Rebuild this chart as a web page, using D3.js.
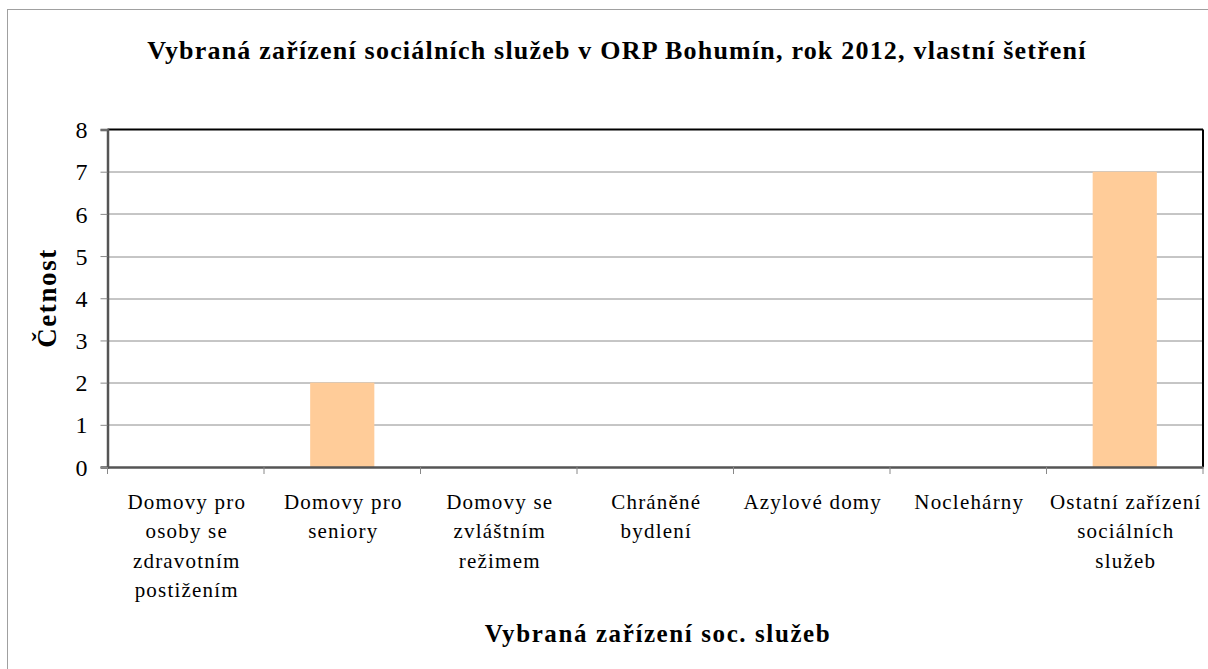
<!DOCTYPE html>
<html>
<head>
<meta charset="utf-8">
<script src="https://cdn.jsdelivr.net/npm/d3@7"></script>
<style>
  body { margin: 0; background: #fff; }
</style>
</head>
<body>
<div id="chart"></div>
<script>
// data
var categories = [
  "Domovy pro osoby se zdravotním postižením",
  "Domovy pro seniory",
  "Domovy se zvláštním režimem",
  "Chráněné bydlení",
  "Azylové domy",
  "Noclehárny",
  "Ostatní zařízení sociálních služeb"
];
var categoryLines = [
  ["Domovy pro", "osoby se", "zdravotním", "postižením"],
  ["Domovy pro", "seniory"],
  ["Domovy se", "zvláštním", "režimem"],
  ["Chráněné", "bydlení"],
  ["Azylové domy"],
  ["Noclehárny"],
  ["Ostatní zařízení", "sociálních", "služeb"]
];
var values = [0, 2, 0, 0, 0, 0, 7];
var yTicks = [0, 1, 2, 3, 4, 5, 6, 7, 8];

var FONT = "'Liberation Serif', 'Times New Roman', serif";

var W = 1208, H = 669;
var margin = {top: 129.5, right: 5, bottom: 202, left: 107.5},
    width = W - margin.left - margin.right,
    height = H - margin.top - margin.bottom;

var root = d3.select("#chart")
  .append("svg")
    .attr("width", W)
    .attr("height", H);

// outer chart frame
root.append("rect")
  .attr("x", 7.5).attr("y", 9.5)
  .attr("width", W).attr("height", H)
  .attr("fill", "none")
  .attr("stroke", "#a0a0a0")
  .attr("stroke-width", 1);

// title
root.append("text")
  .attr("x", 617)
  .attr("y", 59)
  .attr("text-anchor", "middle")
  .style("font-size", "26px")
  .style("font-weight", "bold")
  .style("letter-spacing", "1.2px")
  .text("Vybraná zařízení sociálních služeb v ORP Bohumín, rok 2012, vlastní šetření");

var svg = root.append("g")
  .attr("transform", "translate(" + margin.left + "," + margin.top + ")");

var x = d3.scaleBand()
  .domain(categories)
  .range([0, width])
  .paddingInner(0.59)
  .paddingOuter(0.295);

var xb = d3.scaleBand()
  .domain(categories)
  .range([0, width]);

var y = d3.scaleLinear()
  .domain([0, 8])
  .range([height, 0]);

// gridlines
svg.append("g")
  .selectAll("line")
  .data(yTicks.filter(function (d) { return d > 0 && d < 8; }))
  .enter()
  .append("line")
    .attr("x1", 0)
    .attr("x2", width)
    .attr("y1", function (d) { return Math.round(y(d)) + 0.5; })
    .attr("y2", function (d) { return Math.round(y(d)) + 0.5; })
    .attr("stroke", "#8c8c8c")
    .attr("stroke-width", 1);

// bars
svg.append("g")
  .selectAll("rect")
  .data(values)
  .enter()
  .append("rect")
    .attr("x", function (d, i) { return x(categories[i]); })
    .attr("y", function (d) { return y(d); })
    .attr("width", x.bandwidth())
    .attr("height", function (d) { return height - y(d); })
    .attr("fill", "#ffcc99");

// plot frame: top/right black, left/bottom dark gray
svg.append("line")
  .attr("x1", 0).attr("x2", width).attr("y1", 0).attr("y2", 0)
  .attr("stroke", "#000").attr("stroke-width", 2);
svg.append("line")
  .attr("x1", width).attr("x2", width).attr("y1", 0).attr("y2", height)
  .attr("stroke", "#000").attr("stroke-width", 2);

// Y axis
var yAxis = svg.append("g")
  .call(d3.axisLeft(y).tickValues(yTicks).tickSize(7).tickPadding(13).tickFormat(d3.format("d")));
yAxis.select(".domain").attr("stroke", "#555").attr("stroke-width", 2.5);
yAxis.selectAll(".tick line").attr("stroke", "#888");
yAxis.selectAll("text")
  .style("font-size", "24px")
  .attr("dy", "0.34em");

// X axis
var xAxis = svg.append("g")
  .attr("transform", "translate(0," + height + ")")
  .call(d3.axisBottom(xb).tickSize(0).tickFormat(""));
xAxis.select(".domain").attr("stroke", "#555").attr("stroke-width", 2.5);

// x ticks at category boundaries
svg.append("g")
  .selectAll("line")
  .data(categories.concat(["end"]))
  .enter()
  .append("line")
    .attr("x1", function (d, i) { return i < categories.length ? xb(d) : width; })
    .attr("x2", function (d, i) { return i < categories.length ? xb(d) : width; })
    .attr("y1", height)
    .attr("y2", height + 7)
    .attr("stroke", "#888");

// category labels
var labels = svg.append("g")
  .selectAll("text")
  .data(categoryLines)
  .enter()
  .append("text")
    .attr("text-anchor", "middle")
    .attr("transform", function (d, i) {
      return "translate(" + (xb(categories[i]) + xb.bandwidth() / 2 + 1) + "," + (height + 42) + ")";
    })
    .style("font-size", "21px")
    .style("letter-spacing", "1.2px");

labels.selectAll("tspan")
  .data(function (d) { return d; })
  .enter()
  .append("tspan")
    .attr("x", 0)
    .attr("y", function (d, i) { return i * 29.3; })
    .text(function (d) { return d; });

// X axis title
root.append("text")
  .attr("x", 658)
  .attr("y", 642)
  .attr("text-anchor", "middle")
  .style("font-size", "25px")
  .style("font-weight", "bold")
  .style("letter-spacing", "1.6px")
  .text("Vybraná zařízení soc. služeb");

// Y axis title
root.append("text")
  .attr("transform", "translate(56," + 298 + ") rotate(-90)")
  .attr("text-anchor", "middle")
  .style("font-size", "27px")
  .style("font-weight", "bold")
  .style("letter-spacing", "1.6px")
  .text("Četnost");

// serif everywhere
root.selectAll("text")
  .style("font-family", FONT)
  .attr("fill", "#000");
</script>
</body>
</html>
